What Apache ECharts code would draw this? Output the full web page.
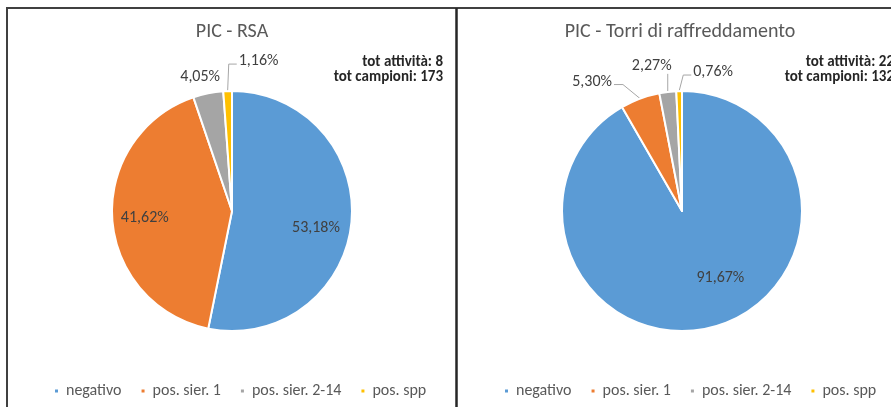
<!DOCTYPE html>
<html>
<head>
    <meta charset="utf-8">
    <title>PIC - RSA / Torri di raffreddamento</title>
    <script src="https://cdn.jsdelivr.net/npm/echarts@6/dist/echarts.min.js"></script>
    <style>
        html, body { margin: 0; padding: 0; background: #fff; }
        #main { width: 891px; height: 407px; }
    </style>
</head>
<body>
<div id="main"></div>
<script>
    // categorie e valori (percentuali)
    var categories = ['negativo', 'pos. sier. 1', 'pos. sier. 2-14', 'pos. spp'];
    var rsaValues = [53.18, 41.62, 4.05, 1.16];
    var torriValues = [91.67, 5.30, 2.27, 0.76];
    var colors = ['#5B9BD5', '#ED7D31', '#A5A5A5', '#FFC000'];

    var FONT = 'Carlito, Calibri, Lato, sans-serif';
    var R = 120;
    var centerRsa = [232, 211];
    var centerTorri = [682, 211];

    // spostamenti delle etichette (px) rispetto alla posizione di base
    var nudgeRsa = [[-2, 8], [-1, 1], [-8, -16], [31, -30]];
    var nudgeTorri = [[16, -16], [-48, -17], [-16, -26], [34, -19]];

    var chart = echarts.init(document.getElementById('main'));

    function fmt(v) {
        return v.toFixed(2).replace('.', ',') + '%';
    }

    // posizione delle etichette in stile Excel: dentro per le fette grandi, fuori con linea per le piccole
    function makeLabelLayout(values, center, radius, nudges) {
        var total = values.reduce(function (a, b) { return a + b; }, 0);
        var mids = [], cum = 0;
        values.forEach(function (v) {
            mids.push((cum + v / 2) / total * 2 * Math.PI);
            cum += v;
        });
        return function (params) {
            var i = params.dataIndex;
            var sx = Math.sin(mids[i]), sy = -Math.cos(mids[i]);
            var inside = values[i] >= 10;
            var base = inside ? 0.72 * radius : radius;
            var ex = center[0] + sx * base, ey = center[1] + sy * base;
            var x = ex + nudges[i][0], y = ey + nudges[i][1];
            var res = {x: x, y: y, align: 'center', verticalAlign: 'middle'};
            if (!inside) {
                var w = params.labelRect.width, h = params.labelRect.height;
                var ay = y + 3, pts;
                if (ex > x + w / 2) {
                    pts = [[ex, ey], [x + w / 2 + 11, ay], [x + w / 2 + 2, ay]];
                } else if (ex < x - w / 2) {
                    pts = [[ex, ey], [x - w / 2 - 10, ay], [x - w / 2 - 2, ay]];
                } else if (ey - (y + h / 2) > 12) {
                    pts = [[ex, ey], [ex, y + h / 2]];
                } else {
                    pts = [[ex, ey], [ex, ey]];
                }
                res.labelLinePoints = pts;
            }
            return res;
        };
    }

    function buildData(values) {
        return values.map(function (v, i) {
            var inside = v >= 10;
            return {
                name: categories[i],
                value: v,
                itemStyle: {color: colors[i]},
                label: {position: inside ? 'inside' : 'outside'},
                labelLine: {show: !inside}
            };
        });
    }

    function pieSeries(name, values, center, nudges) {
        return {
            name: name,
            type: 'pie',
            center: center,
            radius: [0, R],
            startAngle: 90,
            clockwise: true,
            avoidLabelOverlap: false,
            silent: true,
            itemStyle: {borderColor: '#fff', borderWidth: 2},
            label: {
                show: true,
                color: '#404040',
                fontFamily: FONT,
                fontSize: 16,
                formatter: function (p) { return fmt(p.value); }
            },
            labelLine: {
                show: true,
                length: 10,
                length2: 8,
                lineStyle: {color: '#A6A6A6', width: 1}
            },
            labelLayout: makeLabelLayout(values, center, R, nudges),
            data: buildData(values)
        };
    }

    function legend(left) {
        return {
            left: left,
            top: 377,
            icon: 'rect',
            itemWidth: 5,
            itemHeight: 5,
            itemGap: 18,
            selectedMode: false,
            data: categories,
            textStyle: {
                color: '#595959',
                fontFamily: FONT,
                fontSize: 16,
                lineHeight: 18,
                padding: [0, 0, 0, 2]
            }
        };
    }

    function text(x, y, str, opt) {
        return {
            type: 'text',
            x: x,
            y: y,
            style: Object.assign({
                text: str,
                fontFamily: FONT,
                verticalAlign: 'middle'
            }, opt)
        };
    }

    var option = {
        animation: false,
        color: colors,
        legend: [legend(48), legend(498)],
        graphic: [
            // cornici dei due riquadri
            {type: 'line', shape: {x1: 6, y1: 8, x2: 891, y2: 8}, style: {stroke: '#404040', lineWidth: 2}},
            {type: 'line', shape: {x1: 7, y1: 8, x2: 7, y2: 407}, style: {stroke: '#404040', lineWidth: 2}},
            {type: 'line', shape: {x1: 456.5, y1: 8, x2: 456.5, y2: 407}, style: {stroke: '#262626', lineWidth: 2.5}},
            // titoli
            text(232, 32, 'PIC - RSA', {align: 'center', fontSize: 20, fill: '#595959'}),
            text(680, 32, 'PIC - Torri di raffreddamento', {align: 'center', fontSize: 20, fill: '#595959'}),
            // totali
            text(443, 62, 'tot attività: 8', {align: 'right', fontSize: 15, fontWeight: 'bold', fill: '#262626'}),
            text(443, 77, 'tot campioni: 173', {align: 'right', fontSize: 15, fontWeight: 'bold', fill: '#262626'}),
            text(894, 62, 'tot attività: 22', {align: 'right', fontSize: 15, fontWeight: 'bold', fill: '#262626'}),
            text(894, 77, 'tot campioni: 132', {align: 'right', fontSize: 15, fontWeight: 'bold', fill: '#262626'})
        ],
        series: [
            pieSeries('PIC - RSA', rsaValues, centerRsa, nudgeRsa),
            pieSeries('PIC - Torri di raffreddamento', torriValues, centerTorri, nudgeTorri)
        ]
    };

    chart.setOption(option);
</script>
</body>
</html>
